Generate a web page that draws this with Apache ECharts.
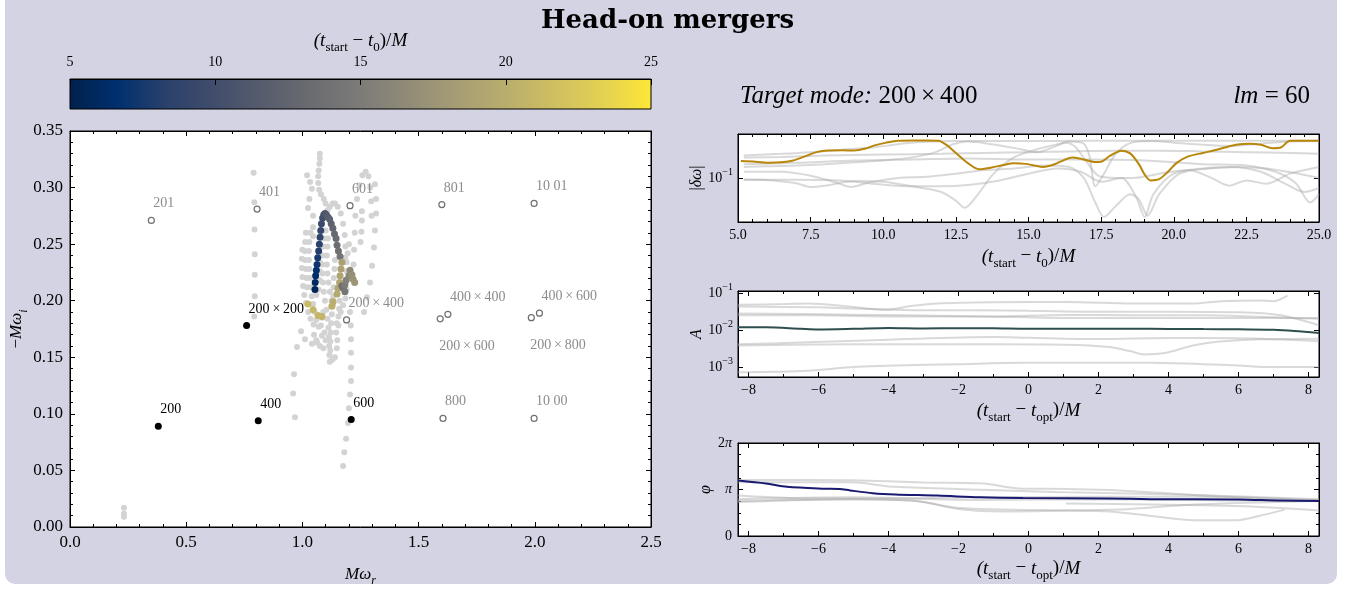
<!DOCTYPE html>
<html>
<head>
<meta charset="utf-8">
<script src="https://cdn.jsdelivr.net/npm/echarts@6/dist/echarts.min.js"></script>
<style>
html, body { margin: 0; padding: 0; background: #fff; }
#panel { position: absolute; left: 5px; top: -12px; width: 1332px; height: 596px; background: #d3d3e4; border-radius: 10px; }
#chart { position: absolute; left: 0; top: 0; width: 1359px; height: 592px; }
</style>
</head>
<body>
<div id="panel"></div>
<div id="chart"></div>
<script>
// ---- QNM frequencies (Mw_r, -Mw_i) ----
const filledNames = ['200', '400', '600', '200\u2009×\u2009200'];
const filledRe = [0.38, 0.81, 1.21, 0.76];
const filledIm = [0.089, 0.094, 0.095, 0.178];

const openNames = ['201', '401', '601', '801', '10 01', '800', '10 00',
  '200\u2009×\u2009400', '400\u2009×\u2009400', '200\u2009×\u2009600', '400\u2009×\u2009600', '200\u2009×\u2009800'];
const openRe = [0.35, 0.805, 1.205, 1.60, 1.997, 1.605, 1.997, 1.19, 1.626, 1.593, 2.02, 1.985];
const openIm = [0.271, 0.281, 0.284, 0.285, 0.286, 0.096, 0.096, 0.183, 0.188, 0.184, 0.189, 0.185];
const labelsBelow = ['200\u2009×\u2009600', '200\u2009×\u2009800'];

// ---- fitted frequencies of the other modes (grey tracks) ----
const grayA = [[0.79, 0.313], [0.793, 0.287], [0.794, 0.263], [0.795, 0.241], [0.795, 0.223], [0.795, 0.204], [0.793, 0.186]];
const grayB = [[1.084, 0.169], [1.063, 0.163], [1.041, 0.162], [1.011, 0.166], [0.994, 0.173], [0.977, 0.159], [0.964, 0.135], [0.96, 0.118], [0.968, 0.097]];
const grayC = [[1.205, 0.19], [1.208, 0.178], [1.209, 0.166], [1.209, 0.154], [1.209, 0.141], [1.209, 0.129], [1.205, 0.117], [1.2, 0.105], [1.196, 0.092], [1.188, 0.078], [1.18, 0.066], [1.175, 0.054]];
const grayD = [[1.312, 0.303], [1.317, 0.29], [1.317, 0.277], [1.312, 0.262], [1.308, 0.247], [1.3, 0.231], [1.291, 0.216], [1.278, 0.203], [1.265, 0.19]];
const grayE = [[1.22, 0.232], [1.222, 0.245], [1.225, 0.26], [1.228, 0.275], [1.235, 0.29], [1.245, 0.302], [1.258, 0.311], [1.272, 0.314], [1.284, 0.31], [1.292, 0.3], [1.296, 0.288], [1.298, 0.275],
  [1.256, 0.279], [1.256, 0.271], [1.254, 0.261], [1.25, 0.252]];
const grayF = [[1.075, 0.33], [1.075, 0.326], [1.073, 0.321], [1.07, 0.315], [1.068, 0.31], [1.068, 0.304], [1.072, 0.298], [1.08, 0.294], [1.092, 0.29], [1.1, 0.286], [1.108, 0.28],
  [1.118, 0.283], [1.13, 0.286], [1.14, 0.286], [1.152, 0.283], [1.165, 0.277], [1.175, 0.268], [1.182, 0.258], [1.185, 0.248], [1.185, 0.238]];
const grayG = [[1.02, 0.311], [1.033, 0.305], [1.041, 0.299], [1.03, 0.29], [1.024, 0.282], [1.046, 0.275], [1.046, 0.265], [1.046, 0.257]];
const grayH = [[1.035, 0.26], [1.03, 0.252], [1.028, 0.244], [1.028, 0.236], [1.03, 0.228], [1.032, 0.22], [1.035, 0.212], [1.04, 0.204], [1.046, 0.197], [1.053, 0.19], [1.06, 0.183], [1.07, 0.177]];
const grayI = [[1.1, 0.262], [1.095, 0.255], [1.09, 0.248], [1.088, 0.24], [1.086, 0.232], [1.086, 0.224], [1.088, 0.216], [1.092, 0.208], [1.097, 0.2], [1.103, 0.192], [1.108, 0.184], [1.112, 0.176], [1.114, 0.168], [1.115, 0.16], [1.116, 0.152], [1.118, 0.146]];
const grayJ = [[1.14, 0.236], [1.138, 0.228], [1.135, 0.22], [1.134, 0.212], [1.133, 0.204], [1.13, 0.196], [1.127, 0.188], [1.124, 0.18], [1.122, 0.172], [1.12, 0.164], [1.12, 0.156]];
const grayK = [[1.0, 0.245], [0.998, 0.237], [0.998, 0.229], [1.0, 0.221], [1.003, 0.213], [1.008, 0.205], [1.015, 0.198], [1.025, 0.19], [1.035, 0.184], [1.048, 0.179]];
const grayL = [[1.2, 0.25], [1.195, 0.242], [1.19, 0.234], [1.19, 0.226], [1.19, 0.218], [1.19, 0.21], [1.185, 0.202], [1.175, 0.196], [1.165, 0.19], [1.155, 0.186], [1.148, 0.18], [1.145, 0.172]];
const grayM = [[1.06, 0.205], [1.07, 0.21], [1.075, 0.218], [1.075, 0.226], [1.075, 0.234], [1.072, 0.242]];
const grayN = [[1.05, 0.17], [1.06, 0.165], [1.075, 0.16], [1.09, 0.158], [1.1, 0.165], [1.095, 0.172], [1.08, 0.178], [1.085, 0.185], [1.09, 0.19]];
const grayO = [[1.16, 0.2], [1.158, 0.193], [1.155, 0.178], [1.15, 0.165], [1.148, 0.158], [1.14, 0.15], [1.13, 0.148]];
const grayP = [[1.015, 0.26], [1.012, 0.252], [1.01, 0.244], [1.012, 0.236], [1.015, 0.228], [1.018, 0.22], [1.02, 0.212]];
const grayQ = [[1.11, 0.255], [1.108, 0.248], [1.105, 0.24], [1.105, 0.232], [1.108, 0.224], [1.112, 0.216], [1.118, 0.208], [1.125, 0.2]];
const grayLow = [[0.232, 0.017], [0.232, 0.012], [0.232, 0.009]];

// ---- target mode 200x400: [Mw_r, -Mw_i, t_start - t0] ----
const target = [
  [1.054, 0.210, 5.6], [1.055, 0.216, 6.0], [1.057, 0.222, 6.4], [1.06, 0.227, 6.8], [1.063, 0.232, 7.2], [1.066, 0.238, 7.6],
  [1.07, 0.244, 8.0], [1.073, 0.25, 8.4], [1.076, 0.256, 8.8], [1.079, 0.262, 9.2], [1.082, 0.268, 9.6], [1.087, 0.273, 10.0],
  [1.092, 0.276, 10.4], [1.097, 0.277, 10.8], [1.103, 0.276, 11.2], [1.11, 0.274, 11.6], [1.117, 0.272, 12.0], [1.124, 0.268, 12.3],
  [1.131, 0.264, 12.6], [1.138, 0.259, 12.9], [1.145, 0.255, 13.2], [1.149, 0.249, 13.5], [1.155, 0.244, 13.8], [1.162, 0.239, 14.2],
  [1.17, 0.234, 18.5], [1.166, 0.228, 18.8], [1.162, 0.222, 19.0], [1.16, 0.216, 19.2], [1.153, 0.211, 19.4], [1.149, 0.206, 19.6],
  [1.17, 0.213, 13.5], [1.176, 0.211, 14.0], [1.183, 0.208, 14.5], [1.183, 0.214, 15.0], [1.188, 0.218, 15.5],
  [1.2, 0.222, 16.0], [1.205, 0.227, 16.5], [1.213, 0.223, 17.0], [1.218, 0.219, 17.3], [1.225, 0.216, 17.6],
  [1.132, 0.199, 20.0], [1.127, 0.195, 20.2], [1.084, 0.186, 20.6], [1.067, 0.187, 20.8], [1.046, 0.192, 21.0], [1.024, 0.197, 21.2]
];

// ---- |dw| vs t_start - t0 ----
const dwTarget = [[5.1, 0.205], [5.6, 0.2], [6.1, 0.191], [6.5, 0.195], [6.9, 0.21], [7.3, 0.25], [7.7, 0.3], [8.1, 0.322], [8.6, 0.325], [9.0, 0.322],
  [9.4, 0.35], [9.7, 0.4], [10.1, 0.45], [10.5, 0.49], [11.0, 0.495], [11.5, 0.495], [11.9, 0.49], [12.2, 0.4], [12.5, 0.29], [12.9, 0.19],
  [13.3, 0.145], [13.7, 0.155], [14.1, 0.172], [14.5, 0.186], [14.9, 0.182], [15.2, 0.17], [15.5, 0.16], [15.8, 0.172], [16.1, 0.2],
  [16.5, 0.24], [16.9, 0.22], [17.3, 0.197], [17.5, 0.2], [17.8, 0.255], [18.2, 0.32], [18.5, 0.285], [18.8, 0.18], [19.0, 0.115],
  [19.2, 0.09], [19.5, 0.095], [19.8, 0.13], [20.1, 0.19], [20.5, 0.25], [21.0, 0.29], [21.4, 0.325], [21.8, 0.37], [22.2, 0.415],
  [22.6, 0.43], [23.0, 0.41], [23.4, 0.355], [23.7, 0.37], [24.0, 0.49], [24.5, 0.49], [25, 0.49]];
const dwGray1 = [[5.2, 0.26], [6.5, 0.28], [7.5, 0.3], [8.5, 0.33], [9.7, 0.37], [10.5, 0.42], [11.3, 0.46], [12.5, 0.48], [14, 0.48], [16, 0.48], [18, 0.49], [20, 0.49], [22, 0.49], [25, 0.49]];
const dwGray2 = [[5.2, 0.24], [6.5, 0.245], [8, 0.26], [10, 0.27], [12, 0.28], [13.5, 0.29], [15, 0.3], [16.5, 0.31], [18, 0.32], [19.5, 0.32], [21, 0.31], [22.5, 0.3], [24, 0.29], [25, 0.28]];
const dwGray3 = [[5.2, 0.16], [6, 0.165], [7, 0.17], [8, 0.18], [9, 0.195], [10, 0.21], [11, 0.24], [11.8, 0.3], [12.4, 0.42], [12.9, 0.47], [13.5, 0.44], [14.5, 0.36],
  [15.3, 0.3], [15.9, 0.38], [16.4, 0.47], [16.9, 0.43], [17.1, 0.25], [17.3, 0.07], [17.6, 0.12], [18, 0.28], [18.5, 0.44], [19.2, 0.48], [20, 0.45], [21, 0.41],
  [22, 0.39], [23, 0.43], [24, 0.47], [25, 0.48]];
const dwGray4 = [[5.2, 0.13], [6.5, 0.13], [7.5, 0.11], [8.3, 0.085], [8.9, 0.068], [9.5, 0.082], [10.5, 0.1], [11.5, 0.105], [12.5, 0.12], [13.5, 0.14], [14.5, 0.15],
  [15.5, 0.17], [16.4, 0.16], [16.9, 0.1], [17.3, 0.035], [17.6, 0.019], [18, 0.03], [18.5, 0.05], [18.8, 0.04], [19.1, 0.02], [19.5, 0.05], [20.2, 0.12], [21.2, 0.15],
  [22.2, 0.16], [23.2, 0.15], [24.3, 0.12], [25, 0.1]];
const dwGray5 = [[5.2, 0.095], [6, 0.092], [7, 0.08], [7.5, 0.068], [8, 0.072], [9, 0.088], [10, 0.085], [11, 0.07], [12, 0.055], [12.5, 0.038], [12.8, 0.028], [13.2, 0.045],
  [13.8, 0.12], [14.5, 0.24], [15.3, 0.34], [16, 0.42], [16.3, 0.45], [16.6, 0.38], [17, 0.2], [17.4, 0.11], [18, 0.1], [18.6, 0.1], [19.5, 0.12], [20.5, 0.14],
  [21.3, 0.1], [21.9, 0.072], [22.5, 0.09], [23.2, 0.078], [24, 0.12], [25, 0.16]];
const dwGray6 = [[5.2, 0.092], [7, 0.093], [8.5, 0.09], [10, 0.075], [11, 0.07], [12, 0.07], [13, 0.075], [14, 0.09], [15, 0.12], [16, 0.15], [16.8, 0.13], [17.5, 0.085],
  [18.2, 0.1], [18.7, 0.045], [19, 0.019], [19.3, 0.05], [20, 0.12], [21, 0.15], [22, 0.16], [23, 0.13], [23.8, 0.08], [24.5, 0.055], [25, 0.065]];
const dwGray7 = [[5.2, 0.18], [7, 0.19], [9, 0.21], [11, 0.22], [13, 0.23], [15, 0.22], [17, 0.22], [19, 0.21], [21, 0.18], [22.5, 0.17], [23.5, 0.13], [24.2, 0.08], [24.7, 0.035], [25, 0.05]];

// ---- amplitude A vs t_start - t_opt ----
const ampTarget = [[-8.3, 0.0118], [-7.5, 0.0118], [-6.5, 0.0108], [-6, 0.0104], [-5, 0.0108], [-4, 0.0114], [-3, 0.011], [-2, 0.0112], [-1, 0.0111], [0, 0.0108],
  [1, 0.0109], [2, 0.0109], [3, 0.0108], [4, 0.0107], [5, 0.0106], [6, 0.0105], [7, 0.0101], [7.6, 0.0094], [8.3, 0.0083]];
const ampGray1 = [[-8.3, 0.048], [-7, 0.05], [-6.3, 0.052], [-5, 0.042], [-4.1, 0.035], [-3.3, 0.045], [-2.6, 0.052], [-1, 0.056], [1.1, 0.057], [3, 0.052], [4.7, 0.052],
  [5.5, 0.06], [6.6, 0.063], [7.0, 0.06], [7.4, 0.085]];
const ampGray2 = [[-8.3, 0.043], [-6, 0.041], [-5, 0.038], [-3, 0.034], [-1.4, 0.034], [0, 0.033], [2.3, 0.031], [4, 0.031], [6, 0.03], [7.2, 0.025], [8.3, 0.0135]];
const ampGray3 = [[-8.3, 0.025], [-6, 0.025], [-3.8, 0.023], [-1, 0.023], [1, 0.0255], [3, 0.025], [5, 0.025], [7, 0.022], [8.3, 0.02]];
const ampGray4 = [[-8.3, 0.028], [-5, 0.026], [-3.5, 0.025], [0, 0.022], [2, 0.021], [5, 0.021], [8.3, 0.021]];
const ampGray5 = [[-8.3, 0.0041], [-6.3, 0.0047], [-4, 0.0055], [-1, 0.0065], [0, 0.0062], [2, 0.0057], [4, 0.0061], [6, 0.006], [8.3, 0.005]];
const ampGray6 = [[-8.3, 0.0038], [-5, 0.0041], [-1, 0.0041], [1, 0.004], [2.3, 0.0035], [2.9, 0.0027], [3.3, 0.0022], [3.9, 0.0024], [4.7, 0.0038], [5.4, 0.0048], [6.6, 0.0056], [8.3, 0.0058]];
const ampGray7 = [[-8.3, 0.00072], [-6.3, 0.0008], [-5, 0.001], [-3.8, 0.0011], [-2, 0.0012], [-0.2, 0.0013], [2, 0.0013], [3.5, 0.0013], [5, 0.0012], [6, 0.0011], [7, 0.001], [8.3, 0.001]];

// ---- phase phi vs t_start - t_opt ----
const phiTarget = [[-8.3, 3.75], [-7.5, 3.55], [-6.9, 3.33], [-5.9, 3.2], [-5.4, 3.18], [-5.1, 3.08], [-4.45, 2.89], [-3.8, 2.8], [-2.6, 2.73], [-1.4, 2.61], [-0.16, 2.56],
  [2.3, 2.54], [3.5, 2.49], [6, 2.47], [7.2, 2.39], [8.3, 2.37]];
const phiGray1 = [[-8.3, 3.79], [-6.3, 3.79], [-5.06, 3.77], [-3, 3.62], [-1.38, 3.56], [-0.16, 3.2], [1.07, 3.18], [2.3, 3.1], [3.5, 2.95], [5.97, 2.61], [8.3, 2.37]];
const phiGray2 = [[-8.3, 3.63], [-5.06, 3.63], [-3.83, 3.32], [1.07, 2.96], [4.75, 2.77], [8.3, 2.49]];
const phiGray3 = [[-8.3, 2.73], [-6.28, 2.54], [-3.83, 2.54], [-1.38, 2.61], [4.75, 2.66], [8.3, 2.44]];
const phiGray4 = [[-8.3, 2.49], [-5.06, 2.61], [-1.38, 2.44], [2.29, 2.49], [7.2, 2.37], [8.3, 2.44]];
const phiGray5 = [[-8.3, 2.3], [-5.06, 2.49], [-3.22, 2.37], [-2.0, 1.83], [-0.77, 1.66], [2.29, 1.78], [2.91, 1.83], [4.75, 2.13], [8.3, 2.37]];
const phiGray6 = [[-8.3, 2.37], [-5.06, 2.49], [-3.22, 2.37], [-2.0, 1.9], [2.29, 1.66], [3.52, 1.35], [4.75, 1.07], [5.97, 1.07], [6.58, 1.35], [7.32, 1.78]];
const phiGray7 = [[1.07, 2.2], [3.52, 2.13], [5.97, 2.02], [8.3, 1.73]];

const colorbarTicks = [5, 10, 15, 20, 25];
const CIVIDIS = ['#00204c', '#00306f', '#2b416c', '#414d6b', '#575d6d', '#6b6c71', '#7c7b78', '#918c77', '#a69d75', '#b9ad6d', '#cfbf61', '#e4d152', '#fde737'];

const SERIF = '"Liberation Serif", "DejaVu Serif", serif';
function rich(fs) {
    const sf = Math.round(fs * 0.7);
    return {
        i: {fontFamily: SERIF, fontStyle: 'italic', fontWeight: 'normal', fontSize: fs, lineHeight: fs + 8, color: '#000'},
        r: {fontFamily: SERIF, fontWeight: 'normal', fontSize: fs, lineHeight: fs + 8, color: '#000'},
        s: {fontFamily: SERIF, fontWeight: 'normal', fontSize: sf, lineHeight: sf + 2, verticalAlign: 'bottom', color: '#000'},
        si: {fontFamily: SERIF, fontStyle: 'italic', fontWeight: 'normal', fontSize: sf, lineHeight: sf + 2, verticalAlign: 'bottom', color: '#000'},
        p: {fontFamily: SERIF, fontWeight: 'normal', fontSize: sf, lineHeight: sf + 4, verticalAlign: 'top', color: '#000'}
    };
}
const T0_NAME = '{i|(t}{s|start}{r| − }{i|t}{s|0}{r|)/}{i|M}';
const TOPT_NAME = '{i|(t}{s|start}{r| − }{i|t}{s|opt}{r|)/}{i|M}';

function logLabel(v) {
    const e = Math.round(Math.log10(v));
    return '{r|10}{p|−' + Math.abs(e) + '}';
}
function phiLabel(v) {
    const k = Math.round(v / Math.PI);
    if (k === 0) return '{r|0}';
    if (k === 1) return '{i|π}';
    return '{r|2}{i|π}';
}

const tick = {show: true, inside: true, length: 5, lineStyle: {color: '#000', width: 1}};
const line = {show: true, onZero: false, lineStyle: {color: '#000', width: 1}};
const minor = n => ({show: true, splitNumber: n, length: 3, lineStyle: {color: '#000'}});

// builds a bottom/left axis and a mirrored top/right axis with ticks only
function axisPair(gridIndex, base, primaryPos, mirrorPos, label, name) {
    const a = Object.assign({
        gridIndex: gridIndex, position: primaryPos, axisLine: line, axisTick: tick,
        splitLine: {show: false}, axisLabel: label, name: name.text,
        nameLocation: 'middle', nameGap: name.gap, nameRotate: name.rotate || 0,
        nameTextStyle: {rich: rich(name.size || 16)}
    }, base);
    const b = Object.assign({
        gridIndex: gridIndex, position: mirrorPos, axisLine: line, axisTick: tick,
        splitLine: {show: false}, axisLabel: {show: false}
    }, base);
    return [a, b];
}

const grids = [
    {left: 70, top: 131, width: 581, height: 405},
    {left: 738, top: 134, width: 581, height: 88},
    {left: 738, top: 291, width: 581, height: 86},
    {left: 738, top: 443, width: 581, height: 93},
    {left: 70, top: 79, width: 581, height: 30}
].map((g, i) => Object.assign({
    show: true, backgroundColor: i === 4 ? {
        type: 'linear', x: 0, y: 0, x2: 1, y2: 0,
        colorStops: CIVIDIS.map((c, k) => ({offset: k / (CIVIDIS.length - 1), color: c}))
    } : '#fff', borderColor: '#000', borderWidth: 1
}, g));

const lbl = (fs, extra) => Object.assign({color: '#000', fontFamily: SERIF, fontSize: fs, margin: 7, rich: rich(fs)}, extra || {});
const signed = v => (v < 0 ? '−' : '') + Math.abs(v);

const xAxes = [
    ...axisPair(0, {type: 'value', min: 0, max: 2.5, interval: 0.5, minorTick: minor(5)},
        'bottom', 'top', lbl(17, {formatter: v => v.toFixed(1)}), {text: '{i|Mω}{si|r}', gap: 35, size: 17}),
    ...axisPair(1, {type: 'value', min: 5, max: 25, interval: 2.5, minorTick: minor(5)},
        'bottom', 'top', lbl(14, {formatter: v => v.toFixed(1), margin: 6}), {text: T0_NAME, gap: 21, size: 19}),
    ...axisPair(2, {type: 'value', min: -8.3, max: 8.3, splitNumber: 8, minorTick: minor(2)},
        'bottom', 'top', lbl(14, {formatter: signed, showMinLabel: false, showMaxLabel: false, margin: 6}), {text: TOPT_NAME, gap: 20, size: 19}),
    ...axisPair(3, {type: 'value', min: -8.3, max: 8.3, splitNumber: 8, minorTick: minor(2)},
        'bottom', 'top', lbl(14, {formatter: signed, showMinLabel: false, showMaxLabel: false, margin: 6}), {text: TOPT_NAME, gap: 19, size: 19}),
    {
        gridIndex: 4, type: 'value', position: 'top', min: colorbarTicks[0], max: colorbarTicks[colorbarTicks.length - 1], interval: 5,
        axisLine: line, axisTick: {show: true, inside: true, length: 6, lineStyle: {color: '#000'}},
        splitLine: {show: false}, axisLabel: lbl(14, {margin: 10}),
        name: T0_NAME, nameLocation: 'middle', nameGap: 18, nameTextStyle: {rich: rich(19)}
    }
];

const yAxes = [
    ...axisPair(0, {type: 'value', min: 0, max: 0.35, interval: 0.05, minorTick: minor(5)},
        'left', 'right', lbl(17, {formatter: v => v.toFixed(2)}), {text: '{r|−}{i|Mω}{si|i}', gap: 40, rotate: 90, size: 17}),
    ...axisPair(1, {type: 'log', logBase: 10, min: 0.0153, max: 0.65},
        'left', 'right', lbl(14, {formatter: logLabel, showMinLabel: false, showMaxLabel: false, margin: 5}), {text: '{r||}{i|δω}{r||}', gap: 25, rotate: 90, size: 16}),
    ...axisPair(2, {type: 'log', logBase: 10, min: 0.00054, max: 0.113},
        'left', 'right', lbl(14, {formatter: logLabel, showMinLabel: false, showMaxLabel: false, margin: 5}), {text: '{i|A}', gap: 16, rotate: 90, size: 16}),
    ...axisPair(3, {type: 'value', min: 0, max: 2 * Math.PI, interval: Math.PI, minorTick: minor(4)},
        'left', 'right', lbl(14, {formatter: phiLabel, margin: 6}), {text: '{i|φ}', gap: 17, rotate: 90, size: 16}),
    {gridIndex: 4, type: 'value', min: 0, max: 1, show: false}
];

const grayTracks = [grayA, grayB, grayC, grayD, grayE, grayF, grayG, grayH, grayI, grayJ, grayK, grayL, grayM, grayN, grayO, grayP, grayQ, grayLow];
const series = [];
grayTracks.forEach(d => series.push({
    type: 'scatter', xAxisIndex: 0, yAxisIndex: 0, data: d, symbolSize: 6,
    itemStyle: {color: '#d3d3d3', opacity: 1}, silent: true, z: 2
}));
const targetIndex = series.length;
series.push({
    type: 'scatter', xAxisIndex: 0, yAxisIndex: 0, data: target, symbolSize: 7,
    itemStyle: {opacity: 1}, encode: {x: 0, y: 1}, silent: true, z: 3
});
series.push({
    type: 'scatter', xAxisIndex: 0, yAxisIndex: 0, symbolSize: 6, z: 4,
    itemStyle: {color: '#fff', borderColor: '#707070', borderWidth: 1.2, opacity: 1},
    label: {show: true, formatter: '{b}', position: 'top', align: 'left', offset: [2, -1], fontFamily: SERIF, fontSize: 14, color: '#8c8c8c'},
    data: openNames.map((n, i) => {
        const item = {name: n, value: [openRe[i], openIm[i]]};
        if (labelsBelow.indexOf(n) >= 0) item.label = {position: 'bottom', offset: [-1, 12]};
        return item;
    })
});
series.push({
    type: 'scatter', xAxisIndex: 0, yAxisIndex: 0, symbolSize: 7, z: 5,
    itemStyle: {color: '#000', opacity: 1},
    label: {show: true, formatter: '{b}', position: 'top', align: 'left', offset: [2, -1], fontFamily: SERIF, fontSize: 14, color: '#000'},
    data: filledNames.map((n, i) => ({name: n, value: [filledRe[i], filledIm[i]]}))
});

function lines(data, xi, yi, color, width, z) {
    return {
        type: 'line', xAxisIndex: xi, yAxisIndex: yi, data: data, showSymbol: false, smooth: 0.3,
        lineStyle: {color: color, width: width}, silent: true, z: z
    };
}
const GRAY = 'rgba(170,170,170,0.45)';
[dwGray1, dwGray2, dwGray3, dwGray4, dwGray5, dwGray6, dwGray7].forEach(d => series.push(lines(d, 2, 2, GRAY, 2, 2)));
series.push(lines(dwTarget, 2, 2, '#b8860b', 2, 3));
[ampGray1, ampGray2, ampGray3, ampGray4, ampGray5, ampGray6, ampGray7].forEach(d => series.push(lines(d, 4, 4, GRAY, 2, 2)));
series.push(lines(ampTarget, 4, 4, '#2f4f4f', 2, 3));
[phiGray1, phiGray2, phiGray3, phiGray4, phiGray5, phiGray6, phiGray7].forEach(d => series.push(lines(d, 6, 6, GRAY, 2, 2)));
series.push(lines(phiTarget, 6, 6, '#191970', 2, 3));

const chart = echarts.init(document.getElementById('chart'));
chart.setOption({
    animation: false,
    backgroundColor: 'transparent',
    title: [
        {text: 'Head-on mergers', left: 536, top: 3, textStyle: {fontFamily: '"DejaVu Serif", serif', fontWeight: 'bold', fontSize: 26, color: '#000'}},
        {text: '{i|Target mode: }{r|200\u2009×\u2009400}', left: 735, top: 75, textStyle: {fontWeight: 'normal', rich: rich(25)}},
        {text: '{i|lm}{r| = 60}', right: 44, top: 75, textStyle: {fontWeight: 'normal', rich: rich(25)}}
    ],
    grid: grids,
    xAxis: xAxes,
    yAxis: yAxes,
    visualMap: {
        type: 'continuous', show: false, seriesIndex: targetIndex, dimension: 2,
        min: colorbarTicks[0], max: colorbarTicks[colorbarTicks.length - 1], inRange: {color: CIVIDIS}
    },
    series: series
});
</script>
</body>
</html>
